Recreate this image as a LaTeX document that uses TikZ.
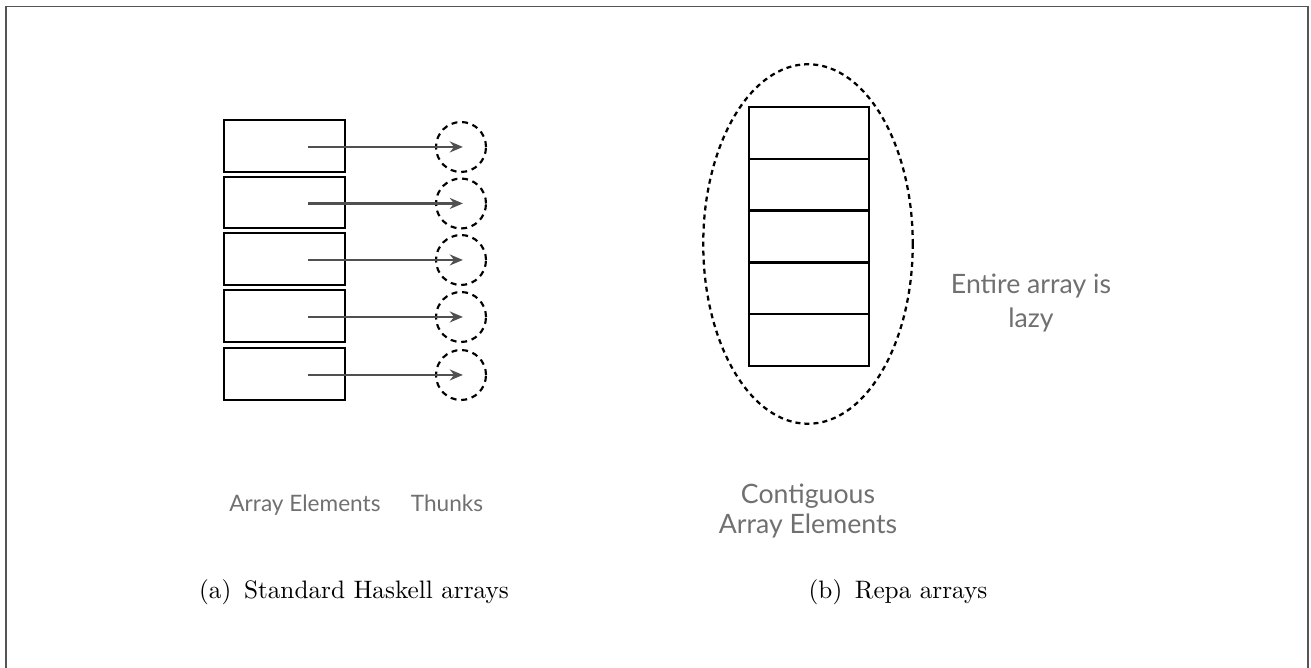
\documentclass[tikz,border=0pt]{standalone}
\usepackage{fontspec}
\newfontfamily\gill{Lato}
\usetikzlibrary{arrows.meta,shapes.geometric}
\definecolor{framegray}{HTML}{555555}
\definecolor{labgray}{HTML}{707070}
\definecolor{arrgray}{HTML}{505050}
\tikzset{
  cellbox/.style={draw=black, line width=1pt, minimum width=50.6pt, minimum height=21.6pt, inner sep=0pt},
  stackcell/.style={draw=black, line width=1pt, minimum width=50.4pt, minimum height=21.7pt, inner sep=0pt},
  thunk/.style={circle, draw=black, dash pattern=on 2.5pt off 2pt, line width=0.9pt, minimum size=21pt, inner sep=0pt},
  ptr/.style={draw=arrgray, line width=0.9pt, -{Stealth[length=5.5pt,width=4.6pt]}},
  graylab/.style={font=\gill\fontsize{9.5}{12}\selectfont, text=labgray, align=center, inner sep=0pt},
  biglab/.style={font=\gill\fontsize{11.2}{13.5}\selectfont, text=labgray, align=center, inner sep=0pt},
  caption/.style={font=\fontsize{10.6}{12}\selectfont, inner sep=0pt}
}
\begin{document}
\begin{tikzpicture}[x=0.42pt, y=-0.42pt]
\useasboundingbox (0,0) rectangle (1311,668);
\draw[framegray, line width=0.65pt] (6,668) -- (6,6.5) -- (1308,6.5) -- (1308,668);

% left: boxes, thunks, pointers
\foreach \i/\y in {1/146, 2/202.5, 3/259, 4/316, 5/374} {
  \node[cellbox] (b\i) at (284.5,\y) {};
  \node[thunk] (t\i) at (461,\y+1) {};
  \coordinate (s\i) at ([xshift=10pt,yshift=-0.4pt]b\i.center);
  \draw[ptr] (s\i) -- ([xshift=0.8pt]s\i -| t\i.center);
}

% right: contiguous stack inside dotted ellipse
\foreach \i/\y in {1/133, 2/185, 3/236.5, 4/288, 5/340} {
  \node[stackcell] (r\i) at (809,\y) {};
}
\node[ellipse, draw=black, line width=0.95pt, dash pattern=on 2.1pt off 1.7pt, minimum width=88pt, minimum height=151pt, inner sep=0pt] (ell) at (808,244) {};

% labels
\node[biglab] (lazy) at (1031,303) {Entire array is\\[0.5pt]lazy};
\node[biglab] (contig) at (808,511) {Contiguous\\[-0.5pt]Array Elements};
\node[graylab, anchor=base] (ae) at (305,511) {Array Elements};
\node[graylab, anchor=base] (th) at (447,511) {Thunks};

% captions
\node[caption] (capa) at (354,592) {(a)\enspace Standard Haskell arrays};
\node[caption] (capb) at (898,592) {(b)\enspace Repa arrays};
\end{tikzpicture}
\end{document}
